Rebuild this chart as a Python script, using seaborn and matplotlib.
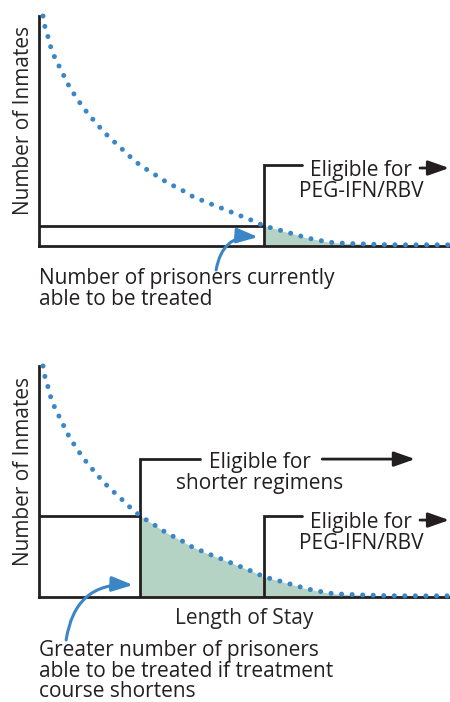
import numpy as np
import matplotlib
matplotlib.use("Agg")
import matplotlib.pyplot as plt
import seaborn as sns

# curve (length of stay vs number of inmates, 0-100 scale)
stay = [0.97, 1.46, 2.19, 2.92, 3.89, 5.11, 6.33, 7.54, 9.0, 10.46, 12.17, 13.87,
        15.57, 17.52, 19.46, 21.41, 23.36, 24.6, 27.98, 30.17, 32.36, 34.79, 37.23,
        40.63, 43.07, 45.5, 47.93, 50.36, 52.8, 54.7, 57.66, 60.1, 62.77, 65.2,
        67.88, 70.3, 72.99, 75.67, 78.1, 80.78, 83.45, 88.0, 93.0, 100.0]
inmates = [100, 95.2, 90.9, 86.1, 81.7, 77.4, 73.0, 68.7, 64.8, 60.9, 57.0, 53.5,
           50.0, 46.5, 43.5, 40.0, 37.0, 35.1, 31.3, 28.7, 26.5, 24.3, 21.7,
           19.1, 17.4, 15.7, 13.9, 12.2, 10.4, 8.7, 7.4, 6.1, 4.8, 3.5,
           2.6, 1.7, 1.3, 1.1, 0.9, 0.8, 0.6, 0.5, 0.5, 0.5]

peg_threshold = 54.7
short_threshold = 24.6
peg_label = "Eligible for\nPEG-IFN/RBV"
short_label = "Eligible for\nshorter regimens"

BLUE = "#3a86c6"
FILL = "#b4d3c4"
DARK = "#231f20"
FS = 15

sns.set_style("white")
plt.rcParams['font.family'] = ['Open Sans', 'DejaVu Sans']
plt.rcParams['text.color'] = DARK

x = np.array(stay)
y = np.array(inmates)


def level_at(t):
    return y[np.argmin(np.abs(x - t))]


def draw_curve(ax, fill_from):
    ax.fill_between(x, 0, y, where=x >= fill_from - 1e-6, color=FILL, lw=0, zorder=1)
    sns.lineplot(x=x, y=y, ax=ax, color=BLUE, lw=3.6, linestyle=(0, (0.01, 2.1)),
                 dash_capstyle='round', clip_on=False, zorder=5)
    ax.set_xlim(0, 100)
    ax.set_ylim(0, 100)
    ax.set_xticks([])
    ax.set_yticks([])
    sns.despine(ax=ax)
    for s in ['left', 'bottom']:
        ax.spines[s].set_linewidth(2.0)
        ax.spines[s].set_color(DARK)
    ax.set_ylabel("Number of Inmates", fontsize=FS)
    ax.yaxis.set_label_coords(-0.012, 0.545)


def bracket(ax, t, top, right, label, lab_x, lab_y, arr_x0, arr_y, arr_x1, level=True):
    if level:
        ax.plot([0, t], [level_at(t)] * 2, color=DARK, lw=2.0, zorder=3)
    ax.plot([t, t, right], [0, top, top], color=DARK, lw=2.0, zorder=3,
            solid_joinstyle='miter')
    ax.text(lab_x, lab_y, label, ha='center', va='center', fontsize=FS,
            linespacing=1.0)
    ax.annotate('', xy=(arr_x1, arr_y), xytext=(arr_x0, arr_y),
                arrowprops=dict(arrowstyle='-|>,head_length=0.85,head_width=0.3',
                                mutation_scale=15, color=DARK, lw=2,
                                shrinkA=0, shrinkB=0),
                annotation_clip=False)


def blue_arrow(ax, start, end):
    ax.annotate('', xy=end, xytext=start,
                arrowprops=dict(arrowstyle='-|>,head_length=0.85,head_width=0.3',
                                mutation_scale=15, color=BLUE, lw=2.2,
                                connectionstyle='arc3,rad=-0.45',
                                shrinkA=0, shrinkB=0),
                annotation_clip=False)


fig = plt.figure(figsize=(4.5, 7.02), dpi=100)
ax1 = fig.add_axes([39 / 450, 456 / 702, 411 / 450, 230 / 702])
ax2 = fig.add_axes([39 / 450, 105 / 702, 411 / 450, 231 / 702])

# top panel
draw_curve(ax1, peg_threshold)
bracket(ax1, peg_threshold, 35.2, 64.0, peg_label, 78.3, 28.3, 92.7, 33.9, 99.8)
blue_arrow(ax1, (43.1, -10.4), (53.3, 3.9))
fig.text(39 / 450, 1 - 268 / 702, "Number of prisoners currently\nable to be treated",
         ha='left', va='top', fontsize=FS, linespacing=0.98)

# bottom panel
draw_curve(ax2, short_threshold)
bracket(ax2, short_threshold, 59.7, 39.2, short_label, 53.8, 53.7, 68.9, 59.7, 91.5)
bracket(ax2, peg_threshold, 35.1, 64.0, peg_label, 78.3, 27.7, 92.7, 33.3, 99.8,
        level=False)
blue_arrow(ax2, (6.6, -18.6), (22.9, 5.2))
ax2.set_xlabel("Length of Stay", fontsize=FS, labelpad=8)
fig.text(39 / 450, 1 - 640 / 702,
         "Greater number of prisoners\nable to be treated if treatment\ncourse shortens",
         ha='left', va='top', fontsize=FS, linespacing=0.98)

fig.savefig("out.png", dpi=100)
